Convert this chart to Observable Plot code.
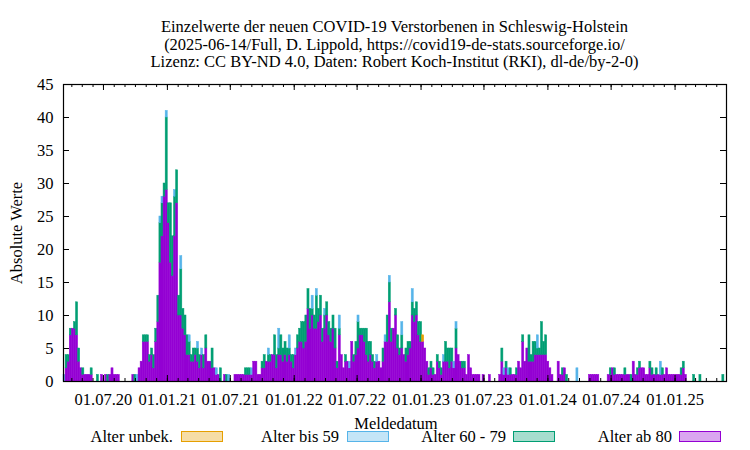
<!DOCTYPE html>
<html><head><meta charset="utf-8">
<script src="https://cdn.jsdelivr.net/npm/d3@7"></script>
<script src="https://cdn.jsdelivr.net/npm/@observablehq/plot@0.6"></script>
<style>
body{margin:0;background:#fff;}
#wrap{position:relative;width:750px;height:450px;font-family:"Liberation Serif","Times New Roman",serif;color:#000;overflow:hidden;}
#wrap svg{position:absolute;left:0;top:0;}
.ov{position:absolute;white-space:nowrap;font-size:16.5px;line-height:17.5px;}
#title{left:0;width:789px;top:18px;text-align:center;}
#xlab{left:0;width:792px;top:415px;text-align:center;}
#ylab{left:17px;top:233px;transform:translate(-50%,-50%) rotate(-90deg);}
.lt{position:absolute;white-space:nowrap;font-size:16.5px;line-height:17.5px;text-align:right;}
.lb{position:absolute;box-sizing:border-box;border:1.5px solid;}
</style></head>
<body><div id="wrap"></div>
<script>
// ---- data: one value per 6-day bin starting 2020-03-08 ----
const startDate = "2020-03-08";
const binDays = 6;
const seriesNames = ["Alter ab 80", "Alter 60 - 79", "Alter bis 59", "Alter unbek."];
const seriesColors = ["#9400d3", "#009e73", "#56b4e9", "#e69f00"];
const legendOrder = ["Alter unbek.", "Alter bis 59", "Alter 60 - 79", "Alter ab 80"];
const yTickValues = [0, 5, 10, 15, 20, 25, 30, 35, 40, 45];
const titleLines = [
  "Einzelwerte der neuen COVID-19 Verstorbenen in Schleswig-Holstein",
  "(2025-06-14/Full, D. Lippold, https://covid19-de-stats.sourceforge.io/",
  "Lizenz: CC BY-ND 4.0, Daten: Robert Koch-Institut (RKI), dl-de/by-2-0)"
];
const xTitle = "Meldedatum";
const yTitle = "Absolute Werte";

const ab80 = [
0,2,3,7,8,8,7,3,2,1, 1,1,1,1,0,0,0,0,1,0, 1,0,1,2,1,1,1,0,0,0, 0,0,0,1,0,0,2,3,6,6,
6,3,4,2,6,9,18,22,28,29, 24,18,16,22,27,10,10,8,7,4, 4,3,3,4,3,2,4,2,5,3, 3,2,2,1,1,0,0,1,0,0,
0,0,1,1,1,1,1,1,1,1, 1,3,3,1,1,2,2,3,3,3, 4,4,2,4,4,3,4,3,4,3, 2,4,5,6,6,5,6,11,8,10,
8,8,9,10,6,8,10,7,6,8, 5,2,7,4,2,3,3,2,6,3, 4,5,7,7,6,4,3,4,3,2, 3,3,2,3,6,6,12,6,8,10,
5,4,5,4,3,4,5,10,9,10, 7,6,6,5,3,1,2,1,1,3, 2,1,3,3,3,2,3,2,5,4, 3,2,2,1,4,2,1,1,1,1,
0,1,0,0,1,0,0,0,0,1, 3,1,2,1,1,1,1,1,3,2, 6,3,5,3,3,3,4,4,4,4, 4,4,3,2,1,0,0,3,1,1,
2,0,0,0,0,0,0,0,0,0, 0,0,1,1,1,1,1,0,0,0, 0,1,1,2,1,1,1,1,1,1, 1,1,0,3,1,1,2,2,2,1,
1,2,1,1,1,1,1,1,1,2, 1,1,1,1,1,1,1,2,1,0, 0,0,0,0,0,0,0,0,0,0, 0,0,0,0,0,0,0,0
];
const a6079 = [
0,2,1,1,0,1,5,2,0,1, 0,0,0,1,0,0,1,0,0,0, 0,1,0,0,0,0,0,0,0,0, 0,0,0,0,1,0,0,0,1,1,
1,1,1,2,2,4,6,5,2,11, 3,9,6,6,5,3,7,3,3,3, 2,1,2,1,2,2,0,2,2,0, 0,3,0,0,0,2,0,0,1,0,
0,0,0,0,0,0,0,1,1,1, 0,0,0,0,0,1,2,0,1,1, 0,3,2,1,3,2,2,2,1,1, 2,0,2,2,3,4,4,3,3,1,
2,5,2,3,2,2,2,2,2,2, 3,1,1,0,0,1,0,0,0,1, 2,4,1,1,2,4,3,2,1,1, 0,0,0,2,0,4,3,2,0,1,
2,1,2,0,2,2,1,2,2,2, 2,3,0,0,0,1,1,1,0,1, 1,1,0,3,2,3,2,0,3,0, 0,1,1,0,0,0,0,0,0,0,
0,0,0,0,0,0,0,0,0,0, 2,0,1,0,1,0,0,1,0,0, 1,0,0,4,1,3,2,1,1,5, 2,3,0,0,0,0,0,0,0,1,
0,1,0,0,0,0,0,0,0,0, 0,0,0,0,0,0,0,0,0,0, 0,0,1,0,1,0,0,0,0,1, 0,0,1,0,0,1,1,0,0,0,
0,1,1,0,1,0,0,1,0,0, 0,0,0,0,0,0,1,1,0,0, 0,0,1,0,0,1,0,0,0,0, 0,0,0,0,0,0,1,0
];
const bis59 = [
1,0,0,0,0,0,0,0,0,0, 0,0,0,0,0,0,0,0,0,0, 0,0,0,0,0,0,0,0,0,0, 0,0,0,0,0,1,0,0,0,0,
0,0,0,0,0,0,1,1,0,1, 0,0,0,1,0,0,2,0,0,0, 1,0,0,0,1,0,1,0,0,0, 0,0,0,1,0,0,0,0,0,1,
0,0,0,0,0,0,0,0,0,0, 1,0,0,0,0,0,0,0,1,0, 0,0,0,3,0,0,0,0,2,0, 0,1,0,0,0,0,0,0,0,2,
0,1,0,0,0,1,0,0,0,0, 0,0,2,0,0,0,0,1,0,0, 0,1,0,0,0,0,0,0,0,0, 1,0,0,0,1,0,1,0,0,0,
0,0,2,0,0,0,0,2,0,0, 0,0,0,0,0,0,0,0,0,0, 0,0,1,0,0,0,0,1,1,0, 0,0,0,0,0,0,0,0,0,0,
0,0,0,0,0,0,0,0,0,0, 0,1,0,1,0,0,0,0,0,0, 0,0,0,0,0,0,0,2,0,0, 0,0,0,0,0,0,0,0,0,0,
0,0,0,0,0,0,2,0,0,0, 0,0,0,0,0,0,0,0,0,0, 0,0,0,0,0,0,0,0,0,0, 0,0,0,0,0,0,0,0,0,0,
0,0,0,0,0,0,2,0,0,0, 0,0,0,0,0,0,0,0,0,0, 0,0,0,0,0,0,0,0,0,0, 0,0,0,0,0,0,0,0
];
const unbek = ab80.map(() => 0);
unbek[172] = 1; // single visible "unknown age" bar, Dec 2022

// ---- build stacked table ----
const start = new Date(startDate + "T00:00:00Z");
const nBins = ab80.length;
const seriesValues = [ab80, a6079, bis59, unbek];
const table = [];
for (let i = 0; i < nBins; i++) {
  let cum = 0;
  for (let s = 0; s < seriesNames.length; s++) {
    const v = seriesValues[s][i];
    if (v > 0) {
      table.push({
        x1: d3.utcDay.offset(start, i * binDays),
        x2: d3.utcDay.offset(start, (i + 1) * binDays),
        y1: cum, y2: cum + v, series: seriesNames[s]
      });
    }
    cum += v;
  }
}
const end = d3.utcDay.offset(start, nBins * binDays);
const majorTicks = d3.utcMonth.every(6).range(d3.utcDay.offset(start, 1), end);
const minorTicks = d3.utcMonth.range(d3.utcDay.offset(start, 1), end);

const W = 750, H = 450, mt = 84, mb = 69, ml = 63, mr = 24;
const fh = H - mt - mb, fw = W - ml - mr;

const chart = Plot.plot({
  width: W, height: H,
  marginTop: mt, marginBottom: mb, marginLeft: ml, marginRight: mr,
  style: {fontFamily: "'Liberation Serif', 'Times New Roman', serif", fontSize: "16.5px", background: "transparent", color: "#000"},
  x: {type: "utc", domain: [start, end]},
  y: {domain: [0, 45]},
  color: {domain: seriesNames, range: seriesColors},
  marks: [
    Plot.rect(table, {x1: "x1", x2: "x2", y1: "y1", y2: "y2", fill: "series", stroke: "series", strokeWidth: 0.5}),
    Plot.ruleX(minorTicks, {x: d => d, insetTop: fh - 3, stroke: "#000"}),
    Plot.ruleX(minorTicks, {x: d => d, insetBottom: fh - 3, stroke: "#000"}),
    Plot.ruleX(majorTicks, {x: d => d, insetTop: fh - 6, stroke: "#000"}),
    Plot.ruleX(majorTicks, {x: d => d, insetBottom: fh - 6, stroke: "#000"}),
    Plot.ruleY(yTickValues, {y: d => d, insetRight: fw - 6, stroke: "#000"}),
    Plot.ruleY(yTickValues, {y: d => d, insetLeft: fw - 6, stroke: "#000"}),
    Plot.axisX({ticks: majorTicks, tickFormat: d3.utcFormat("%d.%m.%y"), tickSize: 0, tickPadding: 12, label: null, fontSize: 16.5}),
    Plot.axisY({ticks: yTickValues, tickSize: 0, tickPadding: 10, label: null, fontSize: 16.5}),
    Plot.frame({stroke: "#000", strokeWidth: 1.2})
  ]
});
const wrap = document.getElementById("wrap");
wrap.appendChild(chart);

function add(cls, id, html, css) {
  const d = document.createElement("div");
  d.className = cls; if (id) d.id = id;
  d.innerHTML = html; if (css) Object.assign(d.style, css);
  wrap.appendChild(d); return d;
}
add("ov", "title", titleLines.join("<br>"));
add("ov", "xlab", xTitle);
add("ov", "ylab", yTitle);

// legend (positions are layout only)
const legendTextRight = [173, 339, 506, 672];
const legendBoxLeft = [181, 347, 513, 679];
legendOrder.forEach((name, k) => {
  const col = seriesColors[seriesNames.indexOf(name)];
  add("lt", null, name, {left: (legendTextRight[k] - 200) + "px", width: "200px", top: "428px"});
  const c = d3.color(col); c.opacity = 0.35;
  add("lb", null, "", {left: legendBoxLeft[k] + "px", top: "431px", width: "42px", height: "11px", borderColor: col, background: c.formatRgb()});
});
</script>
</body></html>
